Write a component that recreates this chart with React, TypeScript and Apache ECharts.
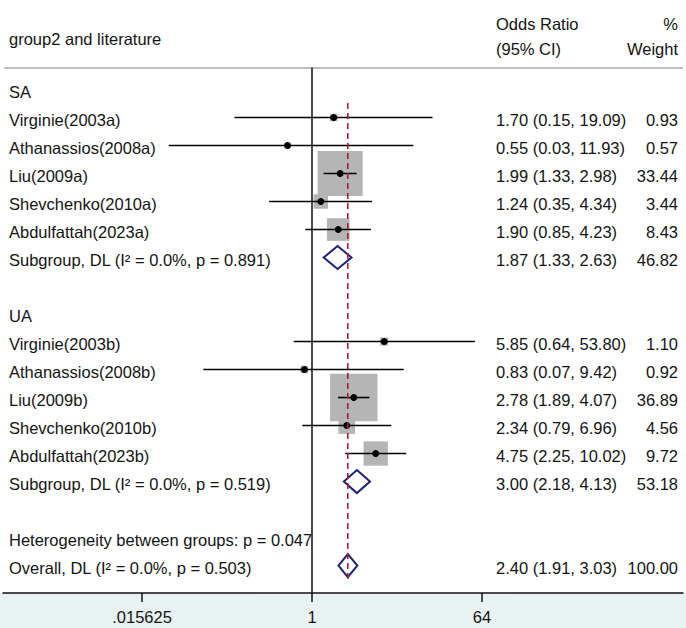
import React, { useEffect, useRef } from "react";
import * as echarts from "echarts";

// ---------- data ----------
const saStudies = ["Virginie(2003a)", "Athanassios(2008a)", "Liu(2009a)", "Shevchenko(2010a)", "Abdulfattah(2023a)"];
const saOR = [1.70, 0.55, 1.99, 1.24, 1.90];
const saLo = [0.15, 0.03, 1.33, 0.35, 0.85];
const saHi = [19.09, 11.93, 2.98, 4.34, 4.23];
const saWeight = [0.93, 0.57, 33.44, 3.44, 8.43];
const saPooled = { or: 1.87, lo: 1.33, hi: 2.63, w: 46.82, i2: "0.0%", p: "0.891" };

const uaStudies = ["Virginie(2003b)", "Athanassios(2008b)", "Liu(2009b)", "Shevchenko(2010b)", "Abdulfattah(2023b)"];
const uaOR = [5.85, 0.83, 2.78, 2.34, 4.75];
const uaLo = [0.64, 0.07, 1.89, 0.79, 2.25];
const uaHi = [53.80, 9.42, 4.07, 6.96, 10.02];
const uaWeight = [1.10, 0.92, 36.89, 4.56, 9.72];
const uaPooled = { or: 3.00, lo: 2.18, hi: 4.13, w: 53.18, i2: "0.0%", p: "0.519" };

const overallPooled = { or: 2.40, lo: 1.91, hi: 3.03, w: 100.0, i2: "0.0%", p: "0.503" };
const heterogeneityP = "0.047";

const tickValues = [0.015625, 1, 64];
const tickLabels = [".015625", "1", "64"];

// ---------- style ----------
const FONT = '"Liberation Sans", Arial, sans-serif';
const FS = 16.5;
const TEXT = "#141414";
const BOX_K = 7.8;
const NAVY = "#1f1f78";
const MAROON = "#a3203c";

type Row = {
  row: number;
  kind: "label" | "study" | "pooled" | "text";
  name: string;
  or?: number;
  lo?: number;
  hi?: number;
  w?: number;
  overall?: boolean;
};

const fmt = (v: number) => v.toFixed(2);

function buildRows(): Row[] {
  const rows: Row[] = [];
  let r = 0;
  rows.push({ row: r++, kind: "label", name: "SA" });
  saStudies.forEach((n, i) =>
    rows.push({ row: r++, kind: "study", name: n, or: saOR[i], lo: saLo[i], hi: saHi[i], w: saWeight[i] })
  );
  rows.push({ row: r++, kind: "pooled", name: `Subgroup, DL (I² = ${saPooled.i2}, p = ${saPooled.p})`, ...saPooled });
  r++;
  rows.push({ row: r++, kind: "label", name: "UA" });
  uaStudies.forEach((n, i) =>
    rows.push({ row: r++, kind: "study", name: n, or: uaOR[i], lo: uaLo[i], hi: uaHi[i], w: uaWeight[i] })
  );
  rows.push({ row: r++, kind: "pooled", name: `Subgroup, DL (I² = ${uaPooled.i2}, p = ${uaPooled.p})`, ...uaPooled });
  r++;
  rows.push({ row: r++, kind: "text", name: `Heterogeneity between groups: p = ${heterogeneityP}` });
  rows.push({
    row: r++,
    kind: "pooled",
    name: `Overall, DL (I² = ${overallPooled.i2}, p = ${overallPooled.p})`,
    ...overallPooled,
    overall: true,
  });
  return rows;
}

const rows = buildRows();
const lastRow = rows[rows.length - 1].row;

export default function App() {
  const ref = useRef<HTMLDivElement>(null);

  useEffect(() => {
    if (!ref.current) return;
    const chart = echarts.init(ref.current, undefined, { renderer: "svg" });
    const tickLog = tickValues.map((v) => Math.log2(v));

    const txt = (text: string, x: number, y: number, align: string) => ({
      type: "text",
      z2: 30,
      style: { text, x, y, align, verticalAlign: "middle", fill: TEXT, fontSize: FS, fontFamily: FONT },
    });

    const option: any = {
      animation: false,
      backgroundColor: "#ffffff",
      grid: { left: 3, right: 3, top: 68, bottom: 35, containLabel: false },
      xAxis: {
        type: "value",
        min: -10.907,
        max: 13.095,
        axisLine: { onZero: false, lineStyle: { color: "#111", width: 1.5 } },
        axisTick: { customValues: tickLog, length: 9, lineStyle: { color: "#111", width: 1.5 } },
        axisLabel: {
          customValues: tickLog,
          margin: 15,
          color: TEXT,
          fontSize: FS,
          fontFamily: FONT,
          formatter: (v: number) => {
            const i = tickLog.findIndex((t) => Math.abs(t - v) < 1e-6);
            return i >= 0 ? tickLabels[i] : "";
          },
        },
        splitLine: { show: false },
      },
      yAxis: {
        type: "value",
        inverse: true,
        min: -0.768,
        max: 17.98,
        axisLine: { show: true, onZero: true, lineStyle: { color: "#111", width: 1.5 } },
        axisTick: { show: false },
        axisLabel: { show: false },
        splitLine: { show: false },
      },
      graphic: [
        {
          type: "rect",
          z: -10,
          shape: { x: 0, y: 593, width: 686, height: 35 },
          style: { fill: "#e9f2f3" },
        },
        {
          type: "line",
          shape: { x1: 4, y1: 68, x2: 683, y2: 68 },
          style: { stroke: "#ababab", lineWidth: 1.6 },
        },
        { type: "text", style: { text: "group2 and literature", x: 9, y: 39, verticalAlign: "middle", fill: TEXT, fontSize: FS, fontFamily: FONT } },
        { type: "text", style: { text: "Odds Ratio", x: 496, y: 24, verticalAlign: "middle", fill: TEXT, fontSize: FS, fontFamily: FONT } },
        { type: "text", style: { text: "(95% CI)", x: 496, y: 49, verticalAlign: "middle", fill: TEXT, fontSize: FS, fontFamily: FONT } },
        { type: "text", style: { text: "%", x: 678, y: 24, align: "right", verticalAlign: "middle", fill: TEXT, fontSize: FS, fontFamily: FONT } },
        { type: "text", style: { text: "Weight", x: 678, y: 49, align: "right", verticalAlign: "middle", fill: TEXT, fontSize: FS, fontFamily: FONT } },
      ],
      series: [
        {
          type: "custom",
          coordinateSystem: "cartesian2d",
          clip: false,
          data: rows.map((r) => [r.or != null ? Math.log2(r.or) : 0, r.row]),
          encode: { x: 0, y: 1 },
          renderItem: (params: any, api: any) => {
            const r = rows[params.dataIndex];
            const y = api.coord([0, r.row])[1];
            const children: any[] = [];
            children.push(txt(r.name, 9, y + 2.5, "left"));
            if (r.kind === "study" || r.kind === "pooled") {
              const c = api.coord([Math.log2(r.or as number), r.row]);
              const l = api.coord([Math.log2(r.lo as number), r.row]);
              const h = api.coord([Math.log2(r.hi as number), r.row]);
              children.push(txt(`${fmt(r.or as number)} (${fmt(r.lo as number)}, ${fmt(r.hi as number)})`, 496, y + 2.5, "left"));
              children.push(txt(fmt(r.w as number), 678, y + 2.5, "right"));
              if (r.kind === "study") {
                const side = BOX_K * Math.sqrt(r.w as number);
                children.push({
                  type: "rect",
                  z2: 1,
                  shape: { x: c[0] - side / 2, y: c[1] - side / 2, width: side, height: side },
                  style: { fill: "#b5b5b5" },
                });
                children.push({
                  type: "line",
                  z2: 10,
                  shape: { x1: l[0], y1: l[1], x2: h[0], y2: h[1] },
                  style: { stroke: "#000", lineWidth: 1.6 },
                });
                children.push({
                  type: "circle",
                  z2: 11,
                  shape: { cx: c[0], cy: c[1], r: 3.5 },
                  style: { fill: "#000" },
                });
              } else {
                const hh = 11.5;
                children.push({
                  type: "polygon",
                  z2: 12,
                  shape: {
                    points: [
                      [l[0], c[1]],
                      [c[0], c[1] - hh],
                      [h[0], c[1]],
                      [c[0], c[1] + hh],
                    ],
                  },
                  style: { fill: "#ffffff", stroke: NAVY, lineWidth: 2 },
                });
                if (r.overall) {
                  const top = api.coord([Math.log2(r.or as number), 0.48]);
                  const bot = api.coord([Math.log2(r.or as number), lastRow + 0.48]);
                  children.push({
                    type: "line",
                    z2: 20,
                    shape: { x1: top[0], y1: top[1], x2: bot[0], y2: bot[1] },
                    style: { stroke: MAROON, lineWidth: 1.6, lineDash: [6, 4] },
                  });
                }
              }
            }
            return { type: "group", children };
          },
        },
      ],
    };

    chart.setOption(option);
    return () => chart.dispose();
  }, []);

  return (
    <div
      ref={ref}
      style={{ position: "absolute", left: 0, top: 0, width: 686, height: 628 }}
    />
  );
}
